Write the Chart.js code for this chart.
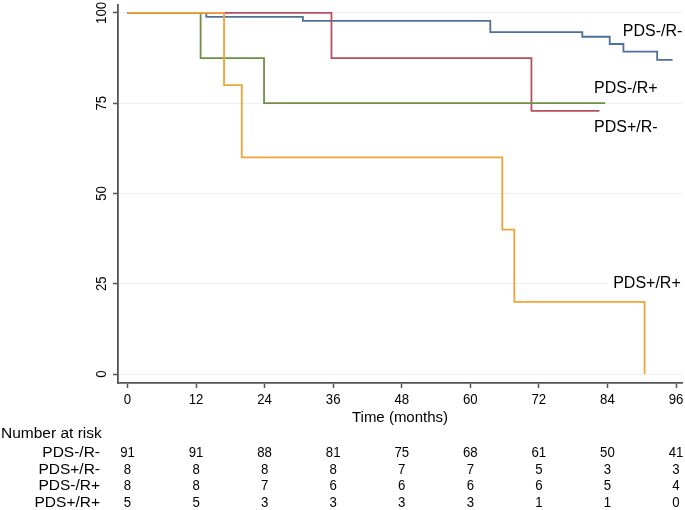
<!DOCTYPE html>
<html><head><meta charset="utf-8">
<script src="https://cdn.jsdelivr.net/npm/chart.js@4.4.1/dist/chart.umd.min.js"></script>
<style>html,body{margin:0;padding:0;background:#fff}canvas{display:block}</style>
</head><body>
<canvas id="c" width="685" height="510"></canvas>
<script>
// ---- Data ----
const seriesNames = ['PDS-/R-', 'PDS+/R-', 'PDS-/R+', 'PDS+/R+'];

// Kaplan-Meier step points (time in months, survival %)
const timesPDSmRm = [0, 13.8, 30.7, 63.5, 79.6, 84.4, 86.8, 92.7, 95.4];
const survPDSmRm  = [100, 98.9, 97.8, 94.7, 93.4, 91.4, 89.3, 87.0, 87.0];

const timesPDSpRm = [0, 35.7, 70.7, 82.6];
const survPDSpRm  = [100, 87.5, 72.9, 72.9];

const timesPDSmRp = [0, 12.8, 23.9, 83.6];
const survPDSmRp  = [100, 87.5, 75.0, 75.0];

const timesPDSpRp = [0, 16.9, 20.0, 65.6, 67.7, 90.5];
const survPDSpRp  = [100, 80, 60, 40, 20, 0];

// Axis ticks
const xTicks = [0, 12, 24, 36, 48, 60, 72, 84, 96];
const yTicks = [0, 25, 50, 75, 100];

// Number at risk table
const riskTimes = [0, 12, 24, 36, 48, 60, 72, 84, 96];
const riskPDSmRm = [91, 91, 88, 81, 75, 68, 61, 50, 41];
const riskPDSpRm = [8, 8, 8, 8, 7, 7, 5, 3, 3];
const riskPDSmRp = [8, 8, 7, 6, 6, 6, 6, 5, 4];
const riskPDSpRp = [5, 5, 3, 3, 3, 3, 1, 1, 0];

// ---- Styling ----
const FONT = '"Liberation Sans", Arial, sans-serif';
const colors = ['#4e7196', '#b5505e', '#6f8f47', '#f4a238'];
const curveLabelAnchors = [ // data coords of label left/baseline
  {x: 86.7, y: 93.7},
  {x: 81.65, y: 67.0},
  {x: 81.65, y: 77.8},
  {x: 85.0, y: 23.7}
];

const toPts = (t, s) => t.map((v, i) => ({x: v, y: s[i]}));
const seriesData = [
  toPts(timesPDSmRm, survPDSmRm),
  toPts(timesPDSpRm, survPDSpRm),
  toPts(timesPDSmRp, survPDSmRp),
  toPts(timesPDSpRp, survPDSpRp)
];
const riskRows = [riskPDSmRm, riskPDSpRm, riskPDSmRp, riskPDSpRp];
const drawOrder = [4, 3, 2, 1];

// condensed number text (narrow digits like the reference)
function narrowText(ctx, txt, x, y, sx) {
  ctx.save();
  ctx.translate(x, y);
  ctx.scale(sx, 1);
  ctx.fillText(txt, 0, 0);
  ctx.restore();
}

const textPlugin = {
  id: 'texts',
  afterDraw(chart) {
    const ctx = chart.ctx, xs = chart.scales.x, ys = chart.scales.y;
    ctx.save();
    ctx.fillStyle = '#000';
    // y tick labels (rotated)
    ctx.font = '15px ' + FONT;
    ctx.textAlign = 'center';
    ctx.textBaseline = 'alphabetic';
    yTicks.forEach(v => {
      const y = ys.getPixelForValue(v);
      ctx.save();
      ctx.translate(106, y);
      ctx.rotate(-Math.PI / 2);
      ctx.scale(0.88, 1);
      ctx.fillText(String(v), 0, 0);
      ctx.restore();
    });
    // x tick labels
    xTicks.forEach(v => narrowText(ctx, String(v), xs.getPixelForValue(v), 403.5, 0.88));
    // axis title
    ctx.font = '15px ' + FONT;
    ctx.fillText('Time (months)', (chart.chartArea.left + chart.chartArea.right) / 2, 422);
    // risk table
    ctx.font = '15.5px ' + FONT;
    ctx.textAlign = 'left';
    ctx.fillText('Number at risk', 1, 438);
    riskRows.forEach((vals, i) => {
      const yb = 457 + i * 16.7;
      ctx.font = '15.5px ' + FONT;
      ctx.textAlign = 'right';
      ctx.fillText(seriesNames[i], 100, yb);
      ctx.font = '15px ' + FONT;
      ctx.textAlign = 'center';
      vals.forEach((n, j) => narrowText(ctx, String(n), xs.getPixelForValue(riskTimes[j]), yb, 0.88));
    });
    // curve labels
    ctx.font = '16px ' + FONT;
    ctx.textAlign = 'left';
    seriesNames.forEach((name, i) => {
      const a = curveLabelAnchors[i];
      const x = xs.getPixelForValue(a.x), y = ys.getPixelForValue(a.y);
      const w = ctx.measureText(name).width;
      ctx.fillStyle = '#fff';
      ctx.fillRect(x - 5, y - 14, w + 6, 18);
      ctx.fillStyle = '#000';
      ctx.fillText(name, x, y);
    });
    ctx.restore();
  }
};

new Chart(document.getElementById('c'), {
  type: 'line',
  data: {
    datasets: seriesNames.map((name, i) => ({
      label: name,
      data: seriesData[i],
      borderColor: colors[i],
      borderWidth: 1.8,
      pointRadius: 0,
      stepped: 'before',
      fill: false,
      order: drawOrder[i]
    }))
  },
  options: {
    responsive: false,
    devicePixelRatio: 1,
    animation: false,
    layout: {padding: {top: 5, right: 3, left: 0, bottom: 0}},
    plugins: {legend: {display: false}, tooltip: {enabled: false}},
    scales: {
      x: {
        type: 'linear',
        min: -1.66, max: 97.05,
        afterBuildTicks: s => { s.ticks = xTicks.map(v => ({value: v})); },
        afterFit: s => { s.height = 127; },
        ticks: {display: false},
        grid: {drawOnChartArea: false, drawTicks: true, tickLength: 5, tickColor: '#555', tickWidth: 1.5},
        border: {display: true, color: '#555', width: 1.8}
      },
      y: {
        type: 'linear',
        min: -2.49, max: 102.2,
        afterBuildTicks: s => { s.ticks = yTicks.map(v => ({value: v})); },
        afterFit: s => { s.width = 118; },
        ticks: {display: false},
        grid: {color: '#e8f0f3', lineWidth: 1, drawTicks: true, tickLength: 5, tickColor: '#555', tickWidth: 1.5},
        border: {display: true, color: '#555', width: 1.8}
      }
    }
  },
  plugins: [textPlugin]
});
</script>
</body></html>
